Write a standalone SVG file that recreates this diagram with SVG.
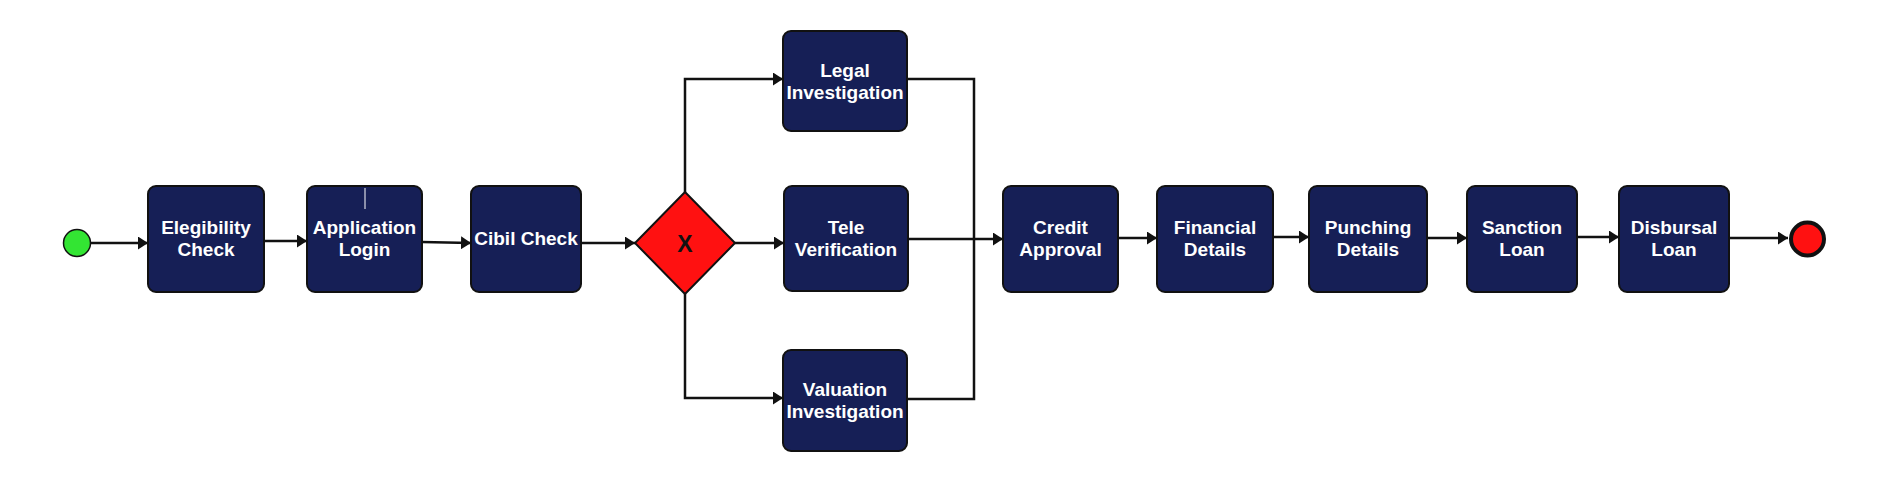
<svg xmlns="http://www.w3.org/2000/svg" width="1903" height="502" viewBox="0 0 1903 502">
<defs>
<marker id="arr" markerUnits="userSpaceOnUse" markerWidth="10" markerHeight="13" refX="10" refY="6.5" orient="auto">
<path d="M0,0 L10,6.5 L0,13 z" fill="#111"/>
</marker>
<style>
.box{fill:#161f56;stroke:#111;stroke-width:2}
.lbl{font-family:"Liberation Sans",Arial,sans-serif;font-weight:bold;font-size:19px;fill:#fff;text-anchor:middle}
.ln{fill:none;stroke:#111;stroke-width:2.5}
.la{fill:none;stroke:#111;stroke-width:2.5;marker-end:url(#arr)}
</style>
</defs>
<rect width="1903" height="502" fill="#fff"/>
<g id="connectors">
<path class="la" d="M91,243 L148,243"/>
<path class="la" d="M264,241 L307,241"/>
<path class="la" d="M422,242 L471,243"/>
<path class="la" d="M581,243 L635,243"/>
<path class="la" d="M685,192 L685,79 L783,79"/>
<path class="la" d="M735,243 L784,243"/>
<path class="la" d="M685,294 L685,398 L783,398"/>
<path class="ln" d="M907,79 L974,79 L974,239"/>
<path class="ln" d="M907,399 L974,399 L974,239"/>
<path class="la" d="M908,239 L1003,239"/>
<path class="la" d="M1118,238 L1157,238"/>
<path class="la" d="M1273,237 L1309,237"/>
<path class="la" d="M1427,238 L1467,238"/>
<path class="la" d="M1577,237 L1619,237"/>
<path class="la" d="M1729,238 L1788,238"/>
</g>
<g id="start"><circle cx="77" cy="243" r="13.5" fill="#33e533" stroke="#111" stroke-width="1.5"/></g>
<g id="elegibility"><rect class="box" x="148" y="186" width="116" height="106" rx="8"/><text class="lbl" x="206" y="234">Elegibility</text><text class="lbl" x="206" y="256">Check</text></g>
<g id="application"><rect class="box" x="307" y="186" width="115" height="106" rx="8"/><line x1="365" y1="188" x2="365" y2="209" stroke="#fff" stroke-width="1"/><text class="lbl" x="364.5" y="234">Application</text><text class="lbl" x="364.5" y="256">Login</text></g>
<g id="cibil"><rect class="box" x="471" y="186" width="110" height="106" rx="8"/><text class="lbl" x="526" y="245">Cibil Check</text></g>
<g id="gateway"><polygon points="685,192 735,243 685,294 635,243" fill="#ff1111" stroke="#111" stroke-width="2"/><text x="685" y="251.5" font-family="Liberation Sans,Arial,sans-serif" font-weight="bold" font-size="23" fill="#111" text-anchor="middle">X</text></g>
<g id="legal"><rect class="box" x="783" y="31" width="124" height="100" rx="8"/><text class="lbl" x="845" y="77">Legal</text><text class="lbl" x="845" y="99">Investigation</text></g>
<g id="tele"><rect class="box" x="784" y="186" width="124" height="105" rx="8"/><text class="lbl" x="846" y="234">Tele</text><text class="lbl" x="846" y="256">Verification</text></g>
<g id="valuation"><rect class="box" x="783" y="350" width="124" height="101" rx="8"/><text class="lbl" x="845" y="396">Valuation</text><text class="lbl" x="845" y="418">Investigation</text></g>
<g id="credit"><rect class="box" x="1003" y="186" width="115" height="106" rx="8"/><text class="lbl" x="1060.5" y="234">Credit</text><text class="lbl" x="1060.5" y="256">Approval</text></g>
<g id="financial"><rect class="box" x="1157" y="186" width="116" height="106" rx="8"/><text class="lbl" x="1215" y="234">Financial</text><text class="lbl" x="1215" y="256">Details</text></g>
<g id="punching"><rect class="box" x="1309" y="186" width="118" height="106" rx="8"/><text class="lbl" x="1368" y="234">Punching</text><text class="lbl" x="1368" y="256">Details</text></g>
<g id="sanction"><rect class="box" x="1467" y="186" width="110" height="106" rx="8"/><text class="lbl" x="1522" y="234">Sanction</text><text class="lbl" x="1522" y="256">Loan</text></g>
<g id="disbursal"><rect class="box" x="1619" y="186" width="110" height="106" rx="8"/><text class="lbl" x="1674" y="234">Disbursal</text><text class="lbl" x="1674" y="256">Loan</text></g>
<g id="end"><circle cx="1807.5" cy="239" r="16.5" fill="#ff1111" stroke="#111" stroke-width="4"/></g>
</svg>
